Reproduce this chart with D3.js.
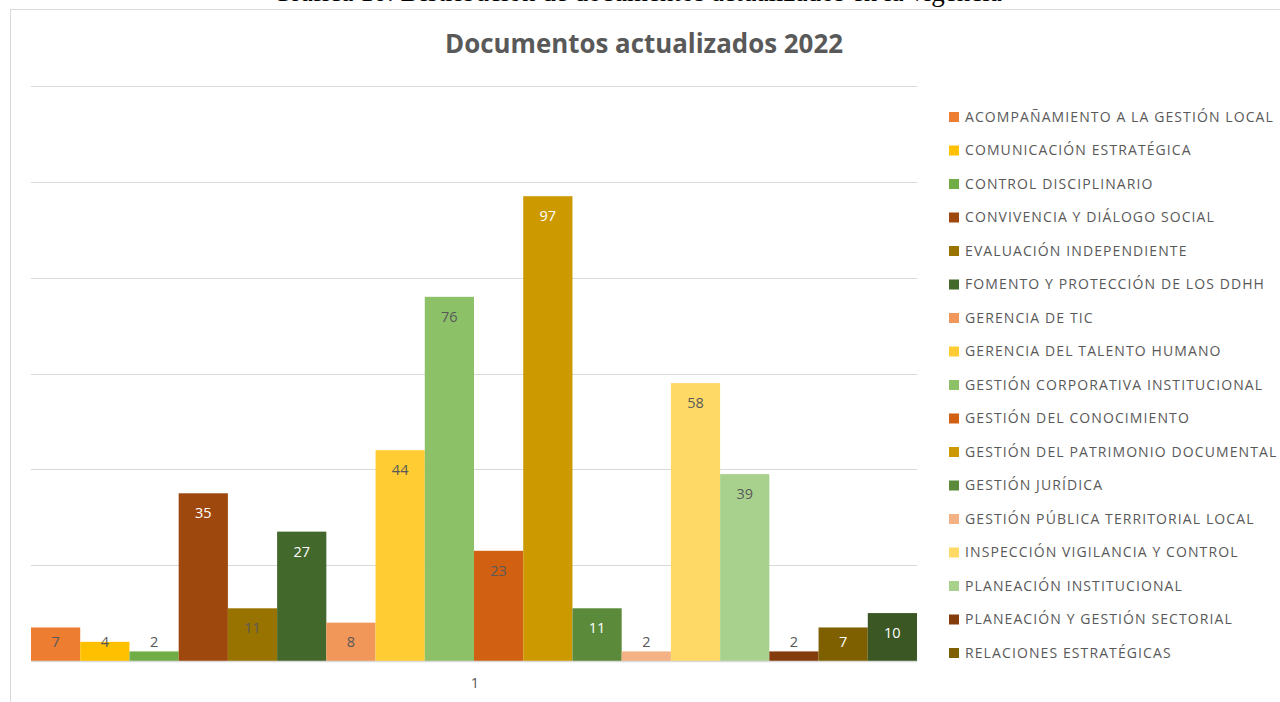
<!DOCTYPE html>
<html>
<head>
<meta charset="utf-8">
<script src="https://cdn.jsdelivr.net/npm/d3@7"></script>
<style>
  html, body { margin: 0; padding: 0; background: #fff; }
  svg { display: block; }
</style>
</head>
<body>
<svg width="1280" height="702"></svg>
<script>
// data
const categories = ['1'];
const seriesNames = [
    'ACOMPAÑAMIENTO A LA GESTIÓN LOCAL',
    'COMUNICACIÓN ESTRATÉGICA',
    'CONTROL DISCIPLINARIO',
    'CONVIVENCIA Y DIÁLOGO SOCIAL',
    'EVALUACIÓN INDEPENDIENTE',
    'FOMENTO Y PROTECCIÓN DE LOS DDHH',
    'GERENCIA DE TIC',
    'GERENCIA DEL TALENTO HUMANO',
    'GESTIÓN CORPORATIVA INSTITUCIONAL',
    'GESTIÓN DEL CONOCIMIENTO',
    'GESTIÓN DEL PATRIMONIO DOCUMENTAL',
    'GESTIÓN JURÍDICA',
    'GESTIÓN PÚBLICA TERRITORIAL LOCAL',
    'INSPECCIÓN VIGILANCIA Y CONTROL',
    'PLANEACIÓN INSTITUCIONAL',
    'PLANEACIÓN Y GESTIÓN SECTORIAL',
    'RELACIONES ESTRATÉGICAS',
    'SEGURIDAD Y CONVIVENCIA' // legend entry cut off in the original
];
const seriesValues = [7, 4, 2, 35, 11, 27, 8, 44, 76, 23, 97, 11, 2, 58, 39, 2, 7, 10];
const yTicks = [0, 20, 40, 60, 80, 100, 120];

// styles
const barColors = ['#ED7D31', '#FFC000', '#70AD47', '#9E480E', '#997300', '#43682B',
    '#F1975A', '#FFCD33', '#8CC168', '#D26012', '#CC9900', '#5A8A3A',
    '#F4B183', '#FFD966', '#A9D18E', '#843C0C', '#7F6000', '#3A5724'];
const whiteLabel = [false, false, false, true, false, true, false, false, false, false,
    true, true, false, false, false, false, true, true];

const svg = d3.select('svg');
const textGray = '#595959';
const gridGray = '#D9D9D9';
const font = "'Open Sans', sans-serif";

const margin = { top: 86, left: 31, right: 363, bottom: 41 };
const innerWidth = 1280 - margin.left - margin.right;   // 886
const innerHeight = 702 - margin.top - margin.bottom;   // 575

// caption from the document, almost fully cropped at the top
svg.append('text')
    .attr('x', 637).attr('y', 1)
    .attr('text-anchor', 'middle')
    .style('font-family', "'Liberation Serif', serif")
    .style('font-size', '27px')
    .attr('fill', '#000')
    .text('Gráfica 10. Distribución de documentos actualizados en la vigencia');

// chart area border
svg.append('rect')
    .attr('x', 10.5).attr('y', 9.5)
    .attr('width', 1300).attr('height', 720)
    .attr('fill', '#fff')
    .attr('stroke', gridGray);

// title
svg.append('text')
    .attr('x', 644).attr('y', 53)
    .attr('text-anchor', 'middle')
    .style('font-family', font)
    .style('font-weight', 'bold')
    .style('font-size', '26px')
    .attr('fill', textGray)
    .attr('textLength', 398)
    .attr('lengthAdjust', 'spacingAndGlyphs')
    .text('Documentos actualizados 2022');

const g = svg.append('g').attr('transform', `translate(${margin.left},${margin.top})`);

// scales
const x0 = d3.scaleBand().domain(categories).range([0, innerWidth]).paddingInner(0).paddingOuter(0);
const x1 = d3.scaleBand().domain(seriesNames).range([0, x0.bandwidth()]).padding(0);
const y = d3.scaleLinear().domain([0, 120]).range([innerHeight, 0]);

// gridlines
g.append('g')
    .selectAll('line')
    .data(yTicks.slice(1))
    .join('line')
    .attr('x1', 0).attr('x2', innerWidth)
    .attr('y1', d => Math.round(y(d)) + 0.5)
    .attr('y2', d => Math.round(y(d)) + 0.5)
    .attr('stroke', gridGray)
    .attr('stroke-width', 1.2);

const rows = seriesNames.map((name, i) => ({ name, value: seriesValues[i], i }));

// bars
const cat = g.append('g').attr('transform', `translate(${x0(categories[0])},0)`);
cat.selectAll('rect')
    .data(rows)
    .join('rect')
    .attr('x', d => x1(d.name))
    .attr('y', d => y(d.value))
    .attr('width', x1.bandwidth())
    .attr('height', d => y(0) - y(d.value))
    .attr('fill', d => barColors[d.i]);

// data labels (inside end, pushed up for short bars)
cat.selectAll('text.lbl')
    .data(rows)
    .join('text')
    .attr('class', 'lbl')
    .attr('x', d => x1(d.name) + x1.bandwidth() / 2)
    .attr('y', d => Math.min(y(d.value) + 20, y(0) - 19))
    .attr('dy', '0.35em')
    .attr('text-anchor', 'middle')
    .style('font-family', font)
    .style('font-size', '14.5px')
    .attr('fill', d => whiteLabel[d.i] ? '#fff' : textGray)
    .text(d => d.value);

// x axis
const xAxis = d3.axisBottom(x0).tickSize(0).tickPadding(17);
const xg = g.append('g')
    .attr('transform', `translate(0,${innerHeight})`)
    .call(xAxis);
xg.select('.domain').attr('stroke', gridGray).attr('stroke-width', 1.5);
xg.selectAll('text')
    .attr('dx', 1)
    .style('font-family', font)
    .style('font-size', '14.5px')
    .attr('fill', textGray);

// legend (entries that do not fit are dropped, as in the original)
const legendTop = 117, legendStep = 33.5, legendBottom = 670;
const legendRows = rows.filter(d => legendTop + d.i * legendStep <= legendBottom);
const legend = svg.append('g');
const item = legend.selectAll('g')
    .data(legendRows)
    .join('g')
    .attr('transform', d => `translate(949,${legendTop + d.i * legendStep})`);
item.append('rect')
    .attr('x', 0).attr('y', -5)
    .attr('width', 10).attr('height', 10)
    .attr('fill', d => barColors[d.i]);
item.append('text')
    .attr('x', 16).attr('y', 0)
    .attr('dy', '0.35em')
    .style('font-family', font)
    .style('font-size', '14px')
    .style('letter-spacing', '1.1px')
    .attr('fill', textGray)
    .text(d => d.name);
</script>
</body>
</html>
